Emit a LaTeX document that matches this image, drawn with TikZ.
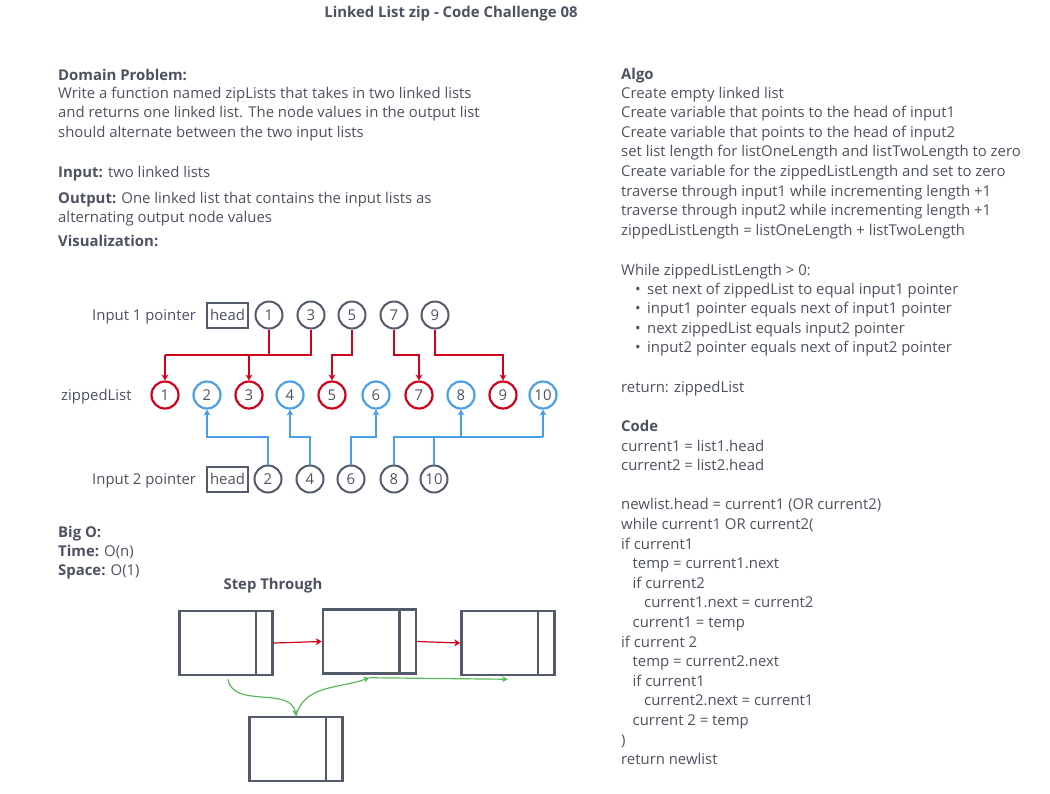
\documentclass[tikz,border=0pt]{standalone}
\usepackage{fontspec}
\setmainfont{Open Sans}
\usetikzlibrary{positioning,calc,arrows.meta}
\definecolor{textgray}{HTML}{4D5260}
\definecolor{slate}{HTML}{535A6B}
\definecolor{red3}{HTML}{D0021B}
\definecolor{skyblue}{HTML}{4A9FE8}
\definecolor{green3}{HTML}{5CB85C}

\begin{document}
\begin{tikzpicture}
[x=1pt,y=-1pt,
 every node/.style={inner sep=0pt,text=textgray,font=\fontsize{14.9}{19.6}\selectfont},
 txt/.style={anchor=base west},
 hd/.style={txt,font=\fontsize{14.9}{19.6}\selectfont\bfseries},
 inode/.style={circle,draw=slate,line width=2pt,minimum size=27pt},
 onode/.style={circle,draw=red3,line width=2.2pt,minimum size=27pt},
 enode/.style={circle,draw=skyblue,line width=2.2pt,minimum size=27pt},
 headbox/.style={draw=slate,line width=2pt,minimum width=41pt,minimum height=25pt},
 listbox/.style={draw=slate,line width=2.5pt,minimum width=93pt,minimum height=64pt},
 tip/.style={-{Stealth[length=6pt,width=7pt]}},
 redline/.style={draw=red3,line width=1.2pt},
 blueline/.style={draw=skyblue,line width=1.2pt},
 greenline/.style={draw=green3,line width=1.2pt,-{Stealth[length=6pt,width=6pt]}}]
\useasboundingbox (0,0) rectangle (1050,793);

\node[font=\fontsize{14.9}{17}\selectfont\bfseries] (title) at (451,14) {Linked List zip - Code Challenge 08};

% left column
\node[hd] (domain) at (58,80) {Domain Problem:};
\foreach \t [count=\i from 0] in {{Write a function named zipLists that takes in two linked lists},
  {and returns one linked list. The node values in the output list},
  {should alternate between the two input lists}}
  \node[txt] (dom\i) at (58,{98+19.6*\i}) {\t};
\node[txt] (input) at (58,177) {\textbf{Input:} two linked lists};
\node[txt] (output) at (58,203) {\textbf{Output:} One linked list that contains the input lists as};
\node[txt] (output2) at (58,222) {alternating output node values};
\node[hd] (visual) at (58,246) {Visualization:};

% visualization
\node[txt] (in1label) at (92,320) {Input 1 pointer};
\node[txt] (ziplabel) at (61,400) {zippedList};
\node[txt] (in2label) at (92,484) {Input 2 pointer};
\node[headbox] (head1) at (227.5,315) {head};
\node[headbox] (head2) at (227.5,479) {head};
\foreach \v/\x in {1/269,3/311,5/352,7/394,9/435}
  \node[inode] (a\v) at (\x,315) {\v};
\foreach \v/\x in {2/268,4/310,6/351,8/394,10/434}
  \node[inode] (b\v) at (\x,479) {\v};
\foreach \v/\x in {1/165,3/249,5/332,7/419,9/503}
  \node[onode] (z\v) at (\x,395) {\v};
\foreach \v/\x in {2/207,4/290,6/376,8/461,10/543}
  \node[enode] (z\v) at (\x,395) {\v};

\coordinate (rbus) at (0,355);
\coordinate (bbus) at (0,437);
\draw[redline] (a1.south) -- (a1 |- rbus);
\draw[redline] (a3.south) -- (a3 |- rbus) -- (z1 |- rbus);
\draw[redline,tip] (z1 |- rbus) -- (z1.north);
\draw[redline,tip] (z3 |- rbus) -- (z3.north);
\foreach \v in {5,7,9}
  \draw[redline,tip] (a\v.south) -- (a\v |- rbus) -| (z\v.north);

\foreach \v in {2,4,6}
  \draw[blueline,tip] (b\v.north) -- (b\v |- bbus) -| (z\v.south);
\draw[blueline] (b8.north) -- (b8 |- bbus) -- (z10 |- bbus);
\draw[blueline] (b10.north) -- (b10 |- bbus);
\draw[blueline,tip] (z8 |- bbus) -- (z8.south);
\draw[blueline,tip] (z10 |- bbus) -- (z10.south);

% big O
\node[hd] (bigo) at (58,537) {Big O:};
\node[txt] (time) at (58,556) {\textbf{Time:} O(n)};
\node[txt] (space) at (58,575) {\textbf{Space:} O(1)};

% step through
\node[font=\fontsize{14.9}{17}\selectfont\bfseries] (step) at (273,586) {Step Through};
\node[listbox] (n1) at (226,643) {};
\node[listbox] (n2) at (369.5,641.5) {};
\node[listbox] (n3) at (508,643) {};
\node[listbox] (n4) at (296,749) {};
\foreach \n in {n1,n2,n3,n4}
  \draw[slate,line width=2.5pt] ([xshift=-18pt]\n.north east) -- ([xshift=-18pt]\n.south east);
\draw[redline,tip] (n1.east) -- (n2.west);
\draw[redline,tip] (n2.east) -- (n3.west);
\coordinate (g1) at ([yshift=-3pt]n2.south);
\draw[greenline] ([xshift=2pt,yshift=-3pt]n1.south) to[out=-80,in=100] (n4.north);
\draw[greenline] (n4.north) to[out=75,in=200] (g1);
\draw[greenline] (g1) -- ([yshift=-3pt]n3.south);

% right column
\node[hd] (algo) at (621,79) {Algo};
\foreach \t [count=\i from 0] in {{Create empty linked list},
  {Create variable that points to the head of input1},
  {Create variable that points to the head of input2},
  {set list length for listOneLength and listTwoLength to zero},
  {Create variable for the zippedListLength and set to zero},
  {traverse through input1 while incrementing length +1},
  {traverse through input2 while incrementing length +1},
  {zippedListLength = listOneLength + listTwoLength}}
  \node[txt] (algo\i) at (621,{98+19.6*\i}) {\t};
\node[txt] (while) at (621,275) {While zippedListLength > 0:};
\foreach \t [count=\i from 0] in {{set next of zippedList to equal input1 pointer},
  {input1 pointer equals next of input1 pointer},
  {next zippedList equals input2 pointer},
  {input2 pointer equals next of input2 pointer}}
{
  \node[anchor=base] (blt\i) at (638,{294+19.6*\i}) {•};
  \node[txt] (step\i) at (647,{294+19.6*\i}) {\t};
}
\node[txt] (ret) at (621,392) {return: zippedList};

\node[hd] (code) at (621,431) {Code};
\foreach \k/\l/\t in {0/0/{current1 = list1.head},1/0/{current2 = list2.head},
  3/0/{newlist.head = current1 (OR current2)},4/0/{while current1 OR current2(},
  5/0/{if current1},6/1/{temp = current1.next},7/1/{if current2},
  8/2/{current1.next = current2},9/1/{current1 = temp},10/0/{if current 2},
  11/1/{temp = current2.next},12/1/{if current1},13/2/{current2.next = current1},
  14/1/{current 2 = temp},15/0/{)},16/0/{return newlist}}
  \node[txt] (code\k) at ({621+11.5*\l},{451+19.6*\k}) {\t};
\end{tikzpicture}
\end{document}
